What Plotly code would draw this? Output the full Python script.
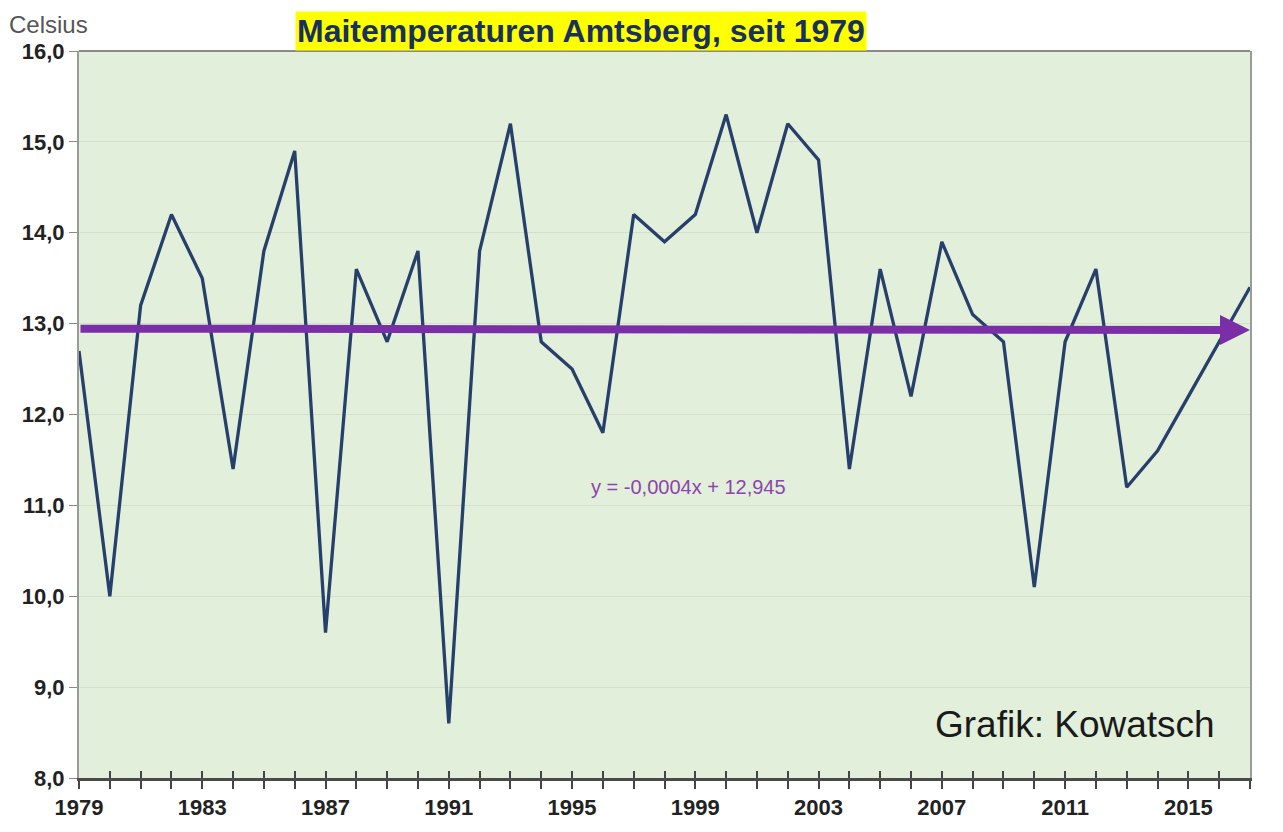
import plotly.graph_objects as go

years = list(range(1979, 2018))
temps = [12.7, 10.0, 13.2, 14.2, 13.5, 11.4, 13.8, 14.9, 9.6, 13.6,
         12.8, 13.8, 8.6, 13.8, 15.2, 12.8, 12.5, 11.8, 14.2, 13.9,
         14.2, 15.3, 14.0, 15.2, 14.8, 11.4, 13.6, 12.2, 13.9, 13.1,
         12.8, 10.1, 12.8, 13.6, 11.2, 11.6, 12.2, 12.8, 13.4]
trend_slope = -0.0004
trend_intercept = 12.945
y_ticks = [8, 9, 10, 11, 12, 13, 14, 15, 16]
x_label_years = [1979, 1983, 1987, 1991, 1995, 1999, 2003, 2007, 2011, 2015]

trend_start = trend_slope * 1 + trend_intercept
trend_end = trend_slope * len(years) + trend_intercept

W, H = 1275, 824
L, R, T, B = 71, 33, 43, 54
PW, PH = W - L - R, H - T - B

# page offset of 8px (body margin): screen px -> paper coords
def px(xs):
    return (xs - 8 - L) / PW

def py(ys):
    return 1 - (ys - 8 - T) / PH

FONT = "Liberation Sans, Arial"

fig = go.Figure()
fig.add_trace(go.Scatter(x=years, y=temps, mode="lines",
                         line=dict(color="#263F6B", width=3.3), showlegend=False,
                         hoverinfo="x+y"))
# invisible trace to carry the crossing (inside) ticks axis
fig.add_trace(go.Scatter(x=[years[0]], y=[temps[0]], xaxis="x2", mode="markers",
                         marker=dict(opacity=0), showlegend=False, hoverinfo="skip"))

# trend arrow
fig.add_annotation(x=years[-1], y=trend_end, ax=years[0], ay=trend_start,
                   xref="x", yref="y", axref="x", ayref="y", text="",
                   showarrow=True, arrowhead=2, arrowsize=0.75, arrowwidth=8,
                   arrowcolor="#7A2FA8", standoff=0, startstandoff=0)

fig.add_annotation(x=px(688), y=py(487), xref="paper", yref="paper",
                   text="y = -0,0004x + 12,945", showarrow=False,
                   font=dict(family=FONT, size=20, color="#8E44AD"))

fig.add_annotation(x=px(933), y=py(724), xref="paper", yref="paper",
                   xanchor="left", yanchor="middle",
                   text="Grafik: Kowatsch", showarrow=False,
                   font=dict(family=FONT, size=37, color="#1a1a1a"))

fig.add_annotation(x=px(295), y=1.0, xref="paper", yref="paper", xanchor="left",
                   yanchor="bottom",
                   text="<b>Maitemperaturen Amtsberg, seit 1979</b>", showarrow=False,
                   bgcolor="#FFFF00", borderpad=1,
                   font=dict(family=FONT, size=32, color="#17305E"))

fig.add_annotation(x=px(7), y=py(25), xref="paper", yref="paper", xanchor="left",
                   yanchor="middle",
                   text="Celsius", showarrow=False,
                   font=dict(family=FONT, size=24, color="#555555"))

# top border of plot area
fig.add_shape(type="line", xref="paper", yref="paper", x0=0, x1=1, y0=1, y1=1,
              line=dict(color="#8A8A8A", width=2))
# faint outer frame (top and left only)
fig.add_shape(type="line", xref="paper", yref="paper",
              x0=px(6), x1=px(1283), y0=py(7), y1=py(7),
              line=dict(color="#DADADA", width=2), layer="below")
fig.add_shape(type="line", xref="paper", yref="paper",
              x0=px(6), x1=px(6), y0=py(7), y1=py(832),
              line=dict(color="#E2E2E2", width=2), layer="below")

fig.update_layout(
    width=W, height=H,
    margin=dict(l=L, r=R, t=T, b=B),
    paper_bgcolor="white", plot_bgcolor="#E2EFDA",
    separators=",.",
    font=dict(family=FONT, color="#222222"),
    xaxis=dict(range=[1979, 2017], tickmode="array", tickvals=years,
               ticktext=[f"<b>{y}</b>" if y in x_label_years else "" for y in years],
               ticks="outside", ticklen=8, tickwidth=1.5, tickcolor="#444444",
               showline=True, linecolor="#4A4A4A", linewidth=2.5, mirror=False,
               showgrid=False, zeroline=False,
               tickfont=dict(size=22, color="#222222")),
    xaxis2=dict(range=[1979, 2017], overlaying="x", side="bottom",
                tickmode="array", tickvals=years, showticklabels=False,
                ticks="inside", ticklen=7, tickwidth=1.5, tickcolor="#444444",
                showline=False, showgrid=False, zeroline=False),
    yaxis=dict(range=[8, 16], tickmode="array", tickvals=y_ticks,
               ticktext=[f"<b>{v:.1f}</b>".replace(".", ",") for v in y_ticks],
               ticks="outside", ticklen=8, tickcolor="#888888",
               showline=True, linecolor="#9A9A9A", linewidth=2, mirror=True,
               showgrid=True, gridcolor="#D3DECB", gridwidth=1, zeroline=False,
               tickfont=dict(size=22, color="#222222")),
)

fig.write_html("out.html")
